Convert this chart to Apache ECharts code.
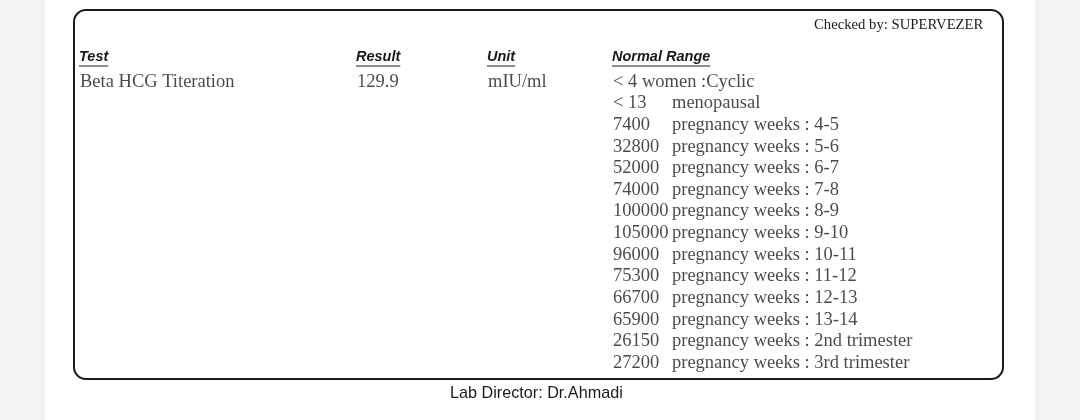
<!DOCTYPE html>
<html>
<head>
<meta charset="utf-8">
<script src="https://cdn.jsdelivr.net/npm/echarts@6/dist/echarts.min.js"></script>
<style>
  html, body { margin: 0; padding: 0; background: #f1f2f4; }
  #report { width: 1080px; height: 420px; }
</style>
</head>
<body>
<div id="report"></div>
<script>
// report data
var headers = ['Test', 'Result', 'Unit', 'Normal Range']
var testNames = ['Beta HCG Titeration']
var results = ['129.9']
var units = ['mIU/ml']
var rangeLimits = ['< 4 women :Cyclic', '< 13', '7400', '32800', '52000', '74000', '100000',
  '105000', '96000', '75300', '66700', '65900', '26150', '27200']
var rangeNotes = ['', 'menopausal', 'pregnancy weeks : 4-5', 'pregnancy weeks : 5-6',
  'pregnancy weeks : 6-7', 'pregnancy weeks : 7-8', 'pregnancy weeks : 8-9',
  'pregnancy weeks : 9-10', 'pregnancy weeks : 10-11', 'pregnancy weeks : 11-12',
  'pregnancy weeks : 12-13', 'pregnancy weeks : 13-14', 'pregnancy weeks : 2nd trimester',
  'pregnancy weeks : 3rd trimester']
var checkedBy = 'Checked by: SUPERVEZER'
var director = 'Lab Director: Dr.Ahmadi'

// column x positions (layout only)
var colX = [80, 357, 488, 613]
var noteX = 672
var serif = '"Liberation Serif", "Times New Roman", serif'
var sans = '"Liberation Sans", Arial, sans-serif'
var ink = '#1a1a1a'

var rows = rangeLimits.map(function (v, i) { return String(i) })

function textWidth(txt, font) {
  var ctx = document.createElement('canvas').getContext('2d')
  ctx.font = font
  return ctx.measureText(txt).width
}

function labelStyle(size) {
  return {
    show: true,
    position: 'right',
    distance: 0,
    color: ink,
    fontFamily: serif,
    fontSize: size,
    formatter: function (p) { return p.data[2] }
  }
}

var chart = echarts.init(document.getElementById('report'))

// header texts + underlines
var headerGraphics = []
headers.forEach(function (h, i) {
  var w = textWidth(h, 'italic bold 14.5px ' + sans)
  headerGraphics.push({
    type: 'text', left: colX[i] - 1, top: 49.5,
    style: { text: h, font: 'italic bold 14.5px ' + sans, fill: ink }
  })
  headerGraphics.push({
    type: 'line',
    shape: { x1: colX[i] - 1, y1: 66, x2: colX[i] - 1 + w, y2: 66 },
    style: { stroke: ink, lineWidth: 1 }
  })
})

chart.setOption({
  animation: false,
  backgroundColor: '#f1f2f4',
  graphic: [
    { type: 'rect', shape: { x: 45, y: 0, width: 990, height: 420 }, style: { fill: '#fff' }, z: -10 },
    {
      type: 'rect', shape: { x: 74, y: 10, width: 929, height: 369, r: 12 },
      style: { fill: 'none', stroke: '#1a1a1a', lineWidth: 2 }
    },
    {
      type: 'text', left: 814, top: 17.5,
      style: { text: checkedBy, font: '14.7px ' + serif, fill: ink }
    },
    {
      type: 'text', left: 450, top: 386,
      style: { text: director, font: '16.2px ' + sans, fill: ink }
    }
  ].concat(headerGraphics),
  grid: { left: 0, right: 0, top: 71, bottom: 46.3 },
  xAxis: { type: 'value', min: 0, max: 1080, show: false },
  yAxis: { type: 'category', data: rows, inverse: true, show: false },
  series: [
    {
      name: 'test',
      type: 'scatter',
      symbolSize: 0,
      label: labelStyle(18.5),
      data: [
        [colX[0], 0, testNames[0]],
        [colX[1], 0, results[0]],
        [colX[2], 0, units[0]]
      ]
    },
    {
      name: 'limits',
      type: 'scatter',
      symbolSize: 0,
      label: labelStyle(18.5),
      data: rangeLimits.map(function (v, i) { return [colX[3], i, v] })
    },
    {
      name: 'notes',
      type: 'scatter',
      symbolSize: 0,
      label: labelStyle(18.5),
      data: rangeNotes.map(function (v, i) { return [noteX, i, v] })
    }
  ]
})
</script>
</body>
</html>
